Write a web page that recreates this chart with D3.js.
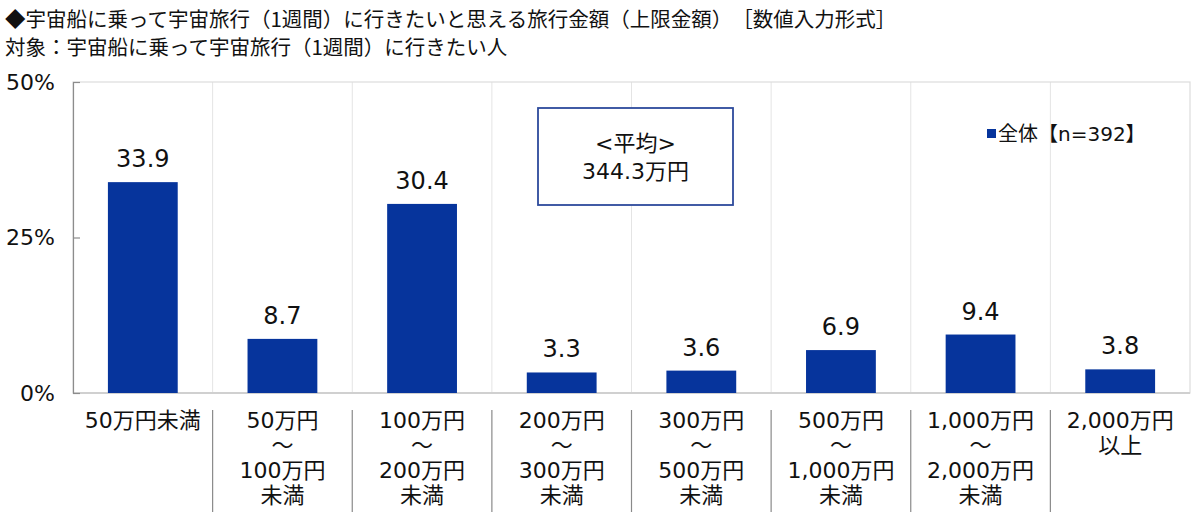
<!DOCTYPE html>
<html>
<head>
<meta charset="utf-8">
<script src="https://cdn.jsdelivr.net/npm/d3@7"></script>
<style>
  body { margin: 0; background: #fff; }
  text { font-family: "DejaVu Sans", "Noto Sans CJK JP", sans-serif; fill: #111; }
  .title { font-family: "Noto Sans CJK JP", sans-serif; }
</style>
</head>
<body>
<div class="chart"></div>
<script>
var svgWidth = 1200;
var svgHeight = 512;

// chart data
var categories = ["c1", "c2", "c3", "c4", "c5", "c6", "c7", "c8"];
var categoryLabels = [
  ["50万円未満"],
  ["50万円", "～", "100万円", "未満"],
  ["100万円", "～", "200万円", "未満"],
  ["200万円", "～", "300万円", "未満"],
  ["300万円", "～", "500万円", "未満"],
  ["500万円", "～", "1,000万円", "未満"],
  ["1,000万円", "～", "2,000万円", "未満"],
  ["2,000万円", "以上"]
];
var values = [33.9, 8.7, 30.4, 3.3, 3.6, 6.9, 9.4, 3.8];
var yTicks = [0, 25, 50];
var titleLines = [
  "◆宇宙船に乗って宇宙旅行（1週間）に行きたいと思える旅行金額（上限金額）　［数値入力形式］",
  "対象：宇宙船に乗って宇宙旅行（1週間）に行きたい人"
];
var legendLabel = "全体【n=392】";
var averageLines = ["<平均>", "344.3万円"];

var barColor = "#06349c";

var plot = { left: 73, right: 1190, top: 82, bottom: 393 };

var svg = d3.select(".chart")
  .append("svg")
  .attr("width", svgWidth)
  .attr("height", svgHeight);

// title
svg.append("g").selectAll("text")
  .data(titleLines)
  .enter()
  .append("text")
  .attr("class", "title")
  .attr("x", 5)
  .attr("y", (d, i) => 27 + i * 28)
  .attr("font-size", "20.5px")
  .text(d => d);

// scales
var xOuter = d3.scaleBand()
  .domain(categories)
  .range([plot.left, plot.right]);

var xBar = d3.scaleBand()
  .domain(categories)
  .range([plot.left, plot.right])
  .paddingInner(0.5)
  .paddingOuter(0.25);

var yScale = d3.scaleLinear()
  .domain([0, 50])
  .range([plot.bottom, plot.top]);

// vertical gridlines between categories
var bounds = categories.slice(1).map(c => xOuter(c));

svg.append("g").selectAll("line")
  .data(bounds)
  .enter()
  .append("line")
  .attr("x1", d => d)
  .attr("x2", d => d)
  .attr("y1", plot.top)
  .attr("y2", plot.bottom)
  .attr("stroke", "#e4e4e4")
  .attr("stroke-width", 1);

// plot frame
svg.append("rect")
  .attr("x", plot.left)
  .attr("y", plot.top)
  .attr("width", plot.right - plot.left)
  .attr("height", plot.bottom - plot.top)
  .attr("fill", "none")
  .attr("stroke", "#dcdcdc")
  .attr("stroke-width", 1.2);

// bottom axis line
svg.append("line")
  .attr("x1", plot.left)
  .attr("x2", plot.right)
  .attr("y1", plot.bottom)
  .attr("y2", plot.bottom)
  .attr("stroke", "#d0d0d0")
  .attr("stroke-width", 2);

// left axis with inside ticks
var leftAxis = d3.axisLeft(yScale)
  .tickValues(yTicks)
  .tickSizeInner(-7)
  .tickSizeOuter(0)
  .tickFormat(d => d + "%");

var yAxis = svg.append("g")
  .attr("transform", `translate(${plot.left}, 0)`)
  .call(leftAxis);

yAxis.select(".domain").attr("stroke", "#8c8c8c").attr("stroke-width", 1.2);
yAxis.selectAll(".tick line").attr("stroke", "#8c8c8c").attr("stroke-width", 1.2);
yAxis.selectAll(".tick text")
  .attr("x", -18)
  .attr("font-size", "22px")
  .attr("font-family", "'DejaVu Sans', sans-serif")
  .attr("fill", "#111");

// bars
svg.append("g").selectAll("rect")
  .data(values)
  .enter()
  .append("rect")
  .attr("x", (d, i) => xBar(categories[i]))
  .attr("y", d => yScale(d))
  .attr("width", xBar.bandwidth())
  .attr("height", d => yScale(0) - yScale(d))
  .attr("fill", barColor);

// value labels
svg.append("g").selectAll("text")
  .data(values)
  .enter()
  .append("text")
  .attr("x", (d, i) => xBar(categories[i]) + xBar.bandwidth() / 2)
  .attr("y", d => yScale(d) - 15)
  .attr("text-anchor", "middle")
  .attr("font-size", "24px")
  .text(d => d.toFixed(1));

// category separators below axis
svg.append("g").selectAll("line")
  .data(bounds)
  .enter()
  .append("line")
  .attr("x1", d => d)
  .attr("x2", d => d)
  .attr("y1", 410)
  .attr("y2", svgHeight)
  .attr("stroke", "#8a8a8a")
  .attr("stroke-width", 1.2);

// category labels, one text per category with a tspan per line
var catTexts = svg.append("g").selectAll("text")
  .data(categoryLabels)
  .enter()
  .append("text")
  .attr("text-anchor", "middle")
  .attr("font-size", "22px")
  .attr("y", 428);

catTexts.selectAll("tspan")
  .data((d, i) => d.map(line => ({ line: line, cx: xOuter(categories[i]) + xOuter.bandwidth() / 2 })))
  .enter()
  .append("tspan")
  .attr("x", d => d.cx)
  .attr("dy", (d, i) => i === 0 ? 0 : 25)
  .text(d => d.line);

// average box
var avgBox = { x: 538, y: 108, w: 195, h: 97 };
svg.append("rect")
  .attr("x", avgBox.x)
  .attr("y", avgBox.y)
  .attr("width", avgBox.w)
  .attr("height", avgBox.h)
  .attr("fill", "#fff")
  .attr("stroke", "#2d4a9c")
  .attr("stroke-width", 1.8);

svg.append("text")
  .attr("text-anchor", "middle")
  .attr("font-size", "22px")
  .attr("y", 151)
  .selectAll("tspan")
  .data(averageLines)
  .enter()
  .append("tspan")
  .attr("x", avgBox.x + avgBox.w / 2)
  .attr("dy", (d, i) => i === 0 ? 0 : 28)
  .text(d => d);

// legend
svg.append("rect")
  .attr("x", 987)
  .attr("y", 129)
  .attr("width", 9)
  .attr("height", 9)
  .attr("fill", barColor);

svg.append("text")
  .attr("x", 998)
  .attr("y", 141)
  .attr("font-size", "20px")
  .text(legendLabel);
</script>
</body>
</html>
